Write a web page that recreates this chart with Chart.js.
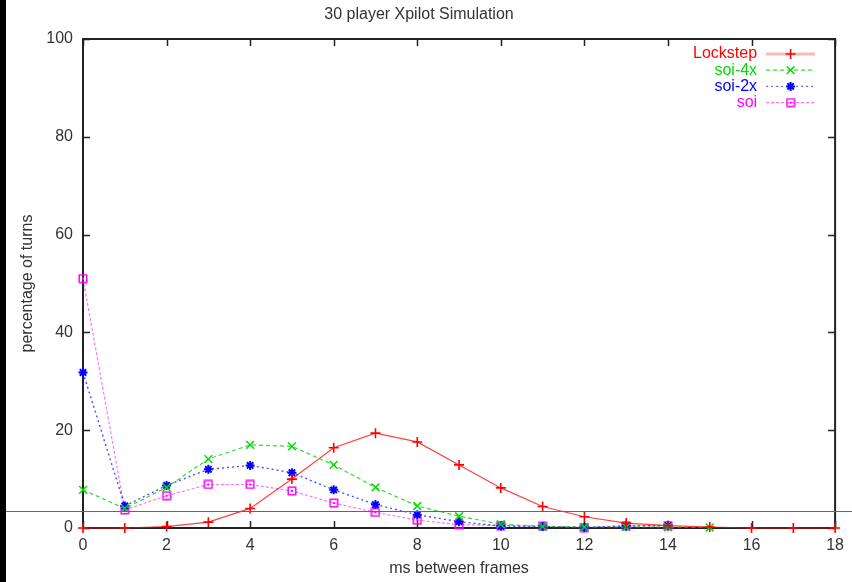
<!DOCTYPE html>
<html>
<head>
<meta charset="utf-8">
<title>30 player Xpilot Simulation</title>
<script src="https://cdn.jsdelivr.net/npm/chart.js@4.4.1/dist/chart.umd.min.js"></script>
<style>
    html, body { margin: 0; padding: 0; background: #fff; }
    #wrap { position: relative; width: 852px; height: 582px; }
</style>
</head>
<body>
<div id="wrap"><canvas id="frames-chart"></canvas></div>
<script>
// ms between frames (x positions)
const msValues = [0, 1, 2, 3, 4, 5, 6, 7, 8, 9, 10, 11, 12, 13, 14, 15, 16, 17, 18];

// percentage of turns per series
const lockstep = [0, 0, 0.3, 1.2, 4.0, 10.0, 16.4, 19.4, 17.6, 12.9, 8.2, 4.4, 2.3, 1.0, 0.5, 0.2, 0, 0, 0];
const soi4x = [7.8, 4.0, 8.3, 14.1, 17.0, 16.7, 12.9, 8.3, 4.5, 2.4, 0.8, 0.3, 0.2, 0.2, 0.2, 0.1];
const soi2x = [31.8, 4.5, 8.7, 12.0, 12.8, 11.3, 7.8, 4.8, 2.7, 1.3, 0.4, 0.3, 0.1, 0.4, 0.5];
const soi = [51.0, 3.7, 6.6, 8.9, 8.9, 7.6, 5.1, 3.2, 1.6, 0.7, 0.5, 0.4, 0.1, 0.5, 0.5];

const seriesNames = ['Lockstep', 'soi-4x', 'soi-2x', 'soi'];
const yTicks = [0, 20, 40, 60, 80, 100];
const xTicks = [0, 2, 4, 6, 8, 10, 12, 14, 16, 18];

const FONT = '"Liberation Sans", Arial, sans-serif';

// hollow square with a dot in the middle, used as the soi marker
function squareMarker() {
    const c = document.createElement('canvas');
    c.width = 10;
    c.height = 10;
    const g = c.getContext('2d');
    g.strokeStyle = '#ff00ff';
    g.lineWidth = 1.5;
    g.strokeRect(1.25, 1.25, 7.5, 7.5);
    g.fillStyle = '#ff00ff';
    g.fillRect(4, 4, 2, 2);
    return c;
}

function toPoints(values) {
    return values.map((v, i) => ({ x: msValues[i], y: v }));
}

const datasets = [
    {
        label: seriesNames[0],
        data: toPoints(lockstep),
        borderColor: 'rgba(255,0,0,0.75)',
        borderWidth: 1.2,
        pointStyle: 'cross',
        pointRadius: 5,
        pointBorderColor: '#ff0000',
        pointBorderWidth: 1.6,
        textColor: '#ff0000',
        legendLine: { color: 'rgba(255,0,0,0.28)', width: 3, dash: [] }
    },
    {
        label: seriesNames[1],
        data: toPoints(soi4x),
        borderColor: 'rgba(0,210,0,0.8)',
        borderWidth: 1.2,
        borderDash: [4, 3],
        pointStyle: 'crossRot',
        pointRadius: 5.5,
        pointBorderColor: '#00dd00',
        pointBorderWidth: 1.5,
        textColor: '#00dd00',
        legendLine: { color: 'rgba(0,210,0,0.8)', width: 1.2, dash: [4, 3] }
    },
    {
        label: seriesNames[2],
        data: toPoints(soi2x),
        borderColor: 'rgba(0,0,255,0.7)',
        borderWidth: 1.4,
        borderDash: [2, 3],
        pointStyle: 'star',
        pointRadius: 4.5,
        pointBorderColor: '#0000ff',
        pointBorderWidth: 2,
        textColor: '#0000ff',
        legendLine: { color: 'rgba(0,0,255,0.6)', width: 1.2, dash: [2, 3] }
    },
    {
        label: seriesNames[3],
        data: toPoints(soi),
        borderColor: 'rgba(255,0,255,0.55)',
        borderWidth: 1.2,
        borderDash: [3, 2],
        pointStyle: squareMarker(),
        pointRadius: 5,
        pointBorderColor: '#ff00ff',
        pointBorderWidth: 1.5,
        textColor: '#ff00ff',
        legendLine: { color: 'rgba(255,0,255,0.55)', width: 1.2, dash: [3, 2] }
    }
];

datasets.forEach(ds => {
    ds.fill = false;
    ds.tension = 0;
    ds.clip = 10;
    ds.pointBackgroundColor = 'transparent';
});

// plot frame with inward ticks on all four sides
const framePlugin = {
    id: 'frame',
    beforeDatasetsDraw(chart) {
        const { ctx, chartArea: a, scales } = chart;
        ctx.save();
        ctx.strokeStyle = '#222';
        ctx.lineWidth = 2;
        ctx.strokeRect(a.left, a.top, a.right - a.left, a.bottom - a.top);
        ctx.lineWidth = 1.5;
        ctx.beginPath();
        yTicks.forEach(v => {
            const y = Math.round(scales.y.getPixelForValue(v)) + 0.5;
            ctx.moveTo(a.left, y); ctx.lineTo(a.left + 7, y);
            ctx.moveTo(a.right, y); ctx.lineTo(a.right - 7, y);
        });
        xTicks.forEach(v => {
            const x = Math.round(scales.x.getPixelForValue(v)) + 0.5;
            ctx.moveTo(x, a.bottom); ctx.lineTo(x, a.bottom - 7);
            ctx.moveTo(x, a.top); ctx.lineTo(x, a.top + 7);
        });
        ctx.stroke();
        ctx.restore();
    }
};

// key in the top right corner of the plot
const keyPlugin = {
    id: 'key',
    afterDatasetsDraw(chart) {
        const { ctx, chartArea: a } = chart;
        const textRight = a.right - 78;
        const lineStart = a.right - 69;
        const lineEnd = a.right - 20;
        const markX = (lineStart + lineEnd) / 2;
        ctx.save();
        ctx.font = '16px ' + FONT;
        ctx.textAlign = 'right';
        ctx.textBaseline = 'middle';
        chart.data.datasets.forEach((ds, i) => {
            const y = a.top + 15 + i * 16.2;
            ctx.fillStyle = ds.textColor;
            ctx.fillText(ds.label, textRight, y);

            ctx.strokeStyle = ds.legendLine.color;
            ctx.lineWidth = ds.legendLine.width;
            ctx.setLineDash(ds.legendLine.dash);
            ctx.beginPath();
            ctx.moveTo(lineStart, y);
            ctx.lineTo(lineEnd, y);
            ctx.stroke();
            ctx.setLineDash([]);

            ctx.strokeStyle = ds.pointBorderColor;
            ctx.fillStyle = 'transparent';
            ctx.lineWidth = ds.pointBorderWidth;
            Chart.helpers.drawPoint(ctx, {
                pointStyle: ds.pointStyle,
                radius: ds.pointRadius,
                rotation: 0,
                borderWidth: ds.pointBorderWidth
            }, markX, y);
        });
        ctx.restore();
    }
};

// scanner edge and stray rule across the page
const edgePlugin = {
    id: 'edge',
    afterDraw(chart) {
        const { ctx, width, height } = chart;
        ctx.save();
        ctx.fillStyle = '#000';
        ctx.fillRect(0, 0, 6, height);
        ctx.strokeStyle = '#666';
        ctx.lineWidth = 1;
        ctx.beginPath();
        ctx.moveTo(6, 511.5);
        ctx.lineTo(width, 511.5);
        ctx.stroke();
        ctx.restore();
    }
};

new Chart(document.getElementById('frames-chart'), {
    type: 'line',
    data: { datasets: datasets },
    plugins: [framePlugin, keyPlugin, edgePlugin],
    options: {
        responsive: true,
        maintainAspectRatio: false,
        animation: false,
        events: [],
        layout: { padding: { top: 0, right: 14, bottom: 0, left: 0 } },
        plugins: {
            legend: { display: false },
            tooltip: { enabled: false },
            title: {
                display: true,
                text: '30 player Xpilot Simulation',
                color: '#333',
                font: { family: FONT, size: 16, weight: 'normal' },
                padding: { top: 5, bottom: 14.8 }
            }
        },
        scales: {
            x: {
                type: 'linear',
                min: 0,
                max: 18,
                afterFit: scale => { scale.height = 54; },
                grid: { display: false, drawTicks: false },
                border: { display: false },
                ticks: {
                    stepSize: 2,
                    padding: 8,
                    color: '#333',
                    font: { family: FONT, size: 16 }
                },
                title: {
                    display: true,
                    text: 'ms between frames',
                    color: '#333',
                    font: { family: FONT, size: 16 },
                    padding: { top: 0, bottom: 3.4 }
                }
            },
            y: {
                min: 0,
                max: 100,
                afterFit: scale => { scale.width = 83; },
                grid: { display: false, drawTicks: false },
                border: { display: false },
                ticks: {
                    stepSize: 20,
                    padding: 10,
                    color: '#333',
                    font: { family: FONT, size: 16 }
                },
                title: {
                    display: true,
                    text: 'percentage of turns',
                    color: '#333',
                    font: { family: FONT, size: 16 },
                    padding: { top: 18.4, bottom: 0 }
                }
            }
        }
    }
});
</script>
</body>
</html>
